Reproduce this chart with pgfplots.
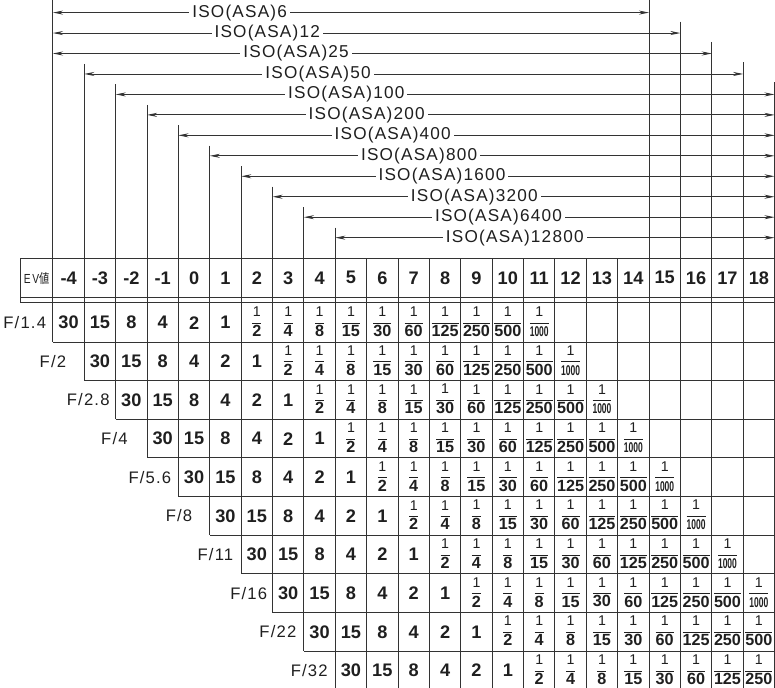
\documentclass[border=0pt]{standalone}
\usepackage{fontspec}
\setmainfont{Liberation Sans}
\newfontfamily\isofont[LetterSpace=7]{Liberation Sans}
\newfontfamily\cjk{Noto Sans CJK JP}
\usepackage{graphicx}
\usepackage{pgfplots}
\usepackage{pgfplotstable}
\pgfplotsset{compat=1.18}
\usetikzlibrary{arrows.meta}
\definecolor{ink}{gray}{0.12}
\definecolor{rule}{gray}{0.2}

\newcommand\wholefont{\fontsize{18bp}{20bp}\selectfont\bfseries}
\newcommand\fracnode[1]{$\displaystyle\frac{\mbox{\fontsize{14bp}{15bp}\selectfont 1}}{\mbox{\bfseries\ifnum#1=1000\relax\fontsize{14bp}{15bp}\selectfont\scalebox{0.6}[1]{#1}\else\fontsize{16bp}{17bp}\selectfont#1\fi}}$}

% shutter times: whole seconds
\pgfplotstableread{
k s
0 30
1 15
2 8
3 4
4 2
5 1
}\wholetab
% shutter times: 1/d seconds
\pgfplotstableread{
k d
6 2
7 4
8 8
9 15
10 30
11 60
12 125
13 250
14 500
15 1000
}\fractab
% EV header
\pgfplotstableread{
e y
-4 282.5
-3 282.5
-2 282.5
-1 282.5
0 282.5
1 282.5
2 282.5
3 282.5
4 282.5
5 282.5
6 282.5
7 282.5
8 282.5
9 282.5
10 282.5
11 282.5
12 282.5
13 282.5
14 282.5
15 282.5
16 282.5
17 282.5
18 282.5
}\hdrtab
% aperture labels
\pgfplotstableread{
r x lab
0 -5.40 F/1.4
1 -4.50 F/2
2 -3.375 F/2.8
3 -2.54 F/4
4 -1.41 F/5.6
5 -0.48 F/8
6 0.68 F/11
7 1.74 F/16
8 2.67 F/22
9 3.67 F/32
}\ftab
% ISO labels
\pgfplotstableread{
x y lab
1.45 20 ISO(ASA)6
2.33 40.25 ISO(ASA)12
3.25 60.5 ISO(ASA)25
3.95 80.75 ISO(ASA)50
4.85 101 ISO(ASA)100
5.50 121.25 ISO(ASA)200
6.33 141.5 ISO(ASA)400
7.17 161.75 ISO(ASA)800
7.90 182 ISO(ASA)1600
8.93 202.25 ISO(ASA)3200
9.70 222.5 ISO(ASA)6400
10.22 242.75 ISO(ASA)12800
}\isotab

\begin{document}
\begin{tikzpicture}
\begin{axis}[
  width=775bp, height=688bp, scale only axis,
  xmin=-6.43, xmax=18.53, ymin=0, ymax=688, y dir=reverse,
  hide axis,
  every node near coord/.append style={anchor=center, text=ink},
  grid/.style={rule, line width=0.9bp},
  arr/.style={rule, line width=0.9bp, {Stealth[length=10bp,width=4bp]}-{Stealth[length=10bp,width=4bp]}},
]
% ---- ISO arrows
\addplot[arr] coordinates {(-4.5,20) (14.5,20)};
\addplot[arr] coordinates {(-4.5,40.25) (15.5,40.25)};
\addplot[arr] coordinates {(-4.5,60.5) (16.5,60.5)};
\addplot[arr] coordinates {(-3.5,80.75) (17.5,80.75)};
\addplot[arr] coordinates {(-2.5,101) (18.5,101)};
\addplot[arr] coordinates {(-1.5,121.25) (18.5,121.25)};
\addplot[arr] coordinates {(-0.5,141.5) (18.5,141.5)};
\addplot[arr] coordinates {(0.5,161.75) (18.5,161.75)};
\addplot[arr] coordinates {(1.5,182) (18.5,182)};
\addplot[arr] coordinates {(2.5,202.25) (18.5,202.25)};
\addplot[arr] coordinates {(3.5,222.5) (18.5,222.5)};
\addplot[arr] coordinates {(4.5,242.75) (18.5,242.75)};
% ---- vertical rules
\addplot[grid] coordinates {(-4.5,8) (-4.5,346)};
\addplot[grid] coordinates {(-3.5,70.75) (-3.5,384.25)};
\addplot[grid] coordinates {(-2.5,91) (-2.5,422.5)};
\addplot[grid] coordinates {(-1.5,111.25) (-1.5,460.75)};
\addplot[grid] coordinates {(-0.5,131.5) (-0.5,499)};
\addplot[grid] coordinates {(0.5,151.75) (0.5,537.25)};
\addplot[grid] coordinates {(1.5,172) (1.5,575.5)};
\addplot[grid] coordinates {(2.5,192.25) (2.5,613.75)};
\addplot[grid] coordinates {(3.5,212.5) (3.5,652)};
\addplot[grid] coordinates {(4.5,232.75) (4.5,688)};
\addplot[grid] coordinates {(5.5,263) (5.5,688)};
\addplot[grid] coordinates {(6.5,263) (6.5,688)};
\addplot[grid] coordinates {(7.5,263) (7.5,688)};
\addplot[grid] coordinates {(8.5,263) (8.5,688)};
\addplot[grid] coordinates {(9.5,263) (9.5,688)};
\addplot[grid] coordinates {(10.5,263) (10.5,688)};
\addplot[grid] coordinates {(11.5,263) (11.5,688)};
\addplot[grid] coordinates {(12.5,263) (12.5,688)};
\addplot[grid] coordinates {(13.5,263) (13.5,688)};
\addplot[grid] coordinates {(14.5,8) (14.5,688)};
\addplot[grid] coordinates {(15.5,29) (15.5,688)};
\addplot[grid] coordinates {(16.5,49) (16.5,688)};
\addplot[grid] coordinates {(17.5,69) (17.5,688)};
\addplot[grid] coordinates {(18.5,89) (18.5,688)};
\addplot[grid] coordinates {(-5.53,263) (-5.53,307)};
% ---- horizontal rules
\addplot[grid] coordinates {(-5.53,263) (18.5,263)};
\addplot[grid] coordinates {(-5.53,302) (18.5,302)};
\addplot[grid] coordinates {(-5.53,307) (18.5,307)};
\addplot[grid] coordinates {(-4.5,346) (18.5,346)};
\addplot[grid] coordinates {(-3.5,384.25) (18.5,384.25)};
\addplot[grid] coordinates {(-2.5,422.5) (18.5,422.5)};
\addplot[grid] coordinates {(-1.5,460.75) (18.5,460.75)};
\addplot[grid] coordinates {(-0.5,499) (18.5,499)};
\addplot[grid] coordinates {(0.5,537.25) (18.5,537.25)};
\addplot[grid] coordinates {(1.5,575.5) (18.5,575.5)};
\addplot[grid] coordinates {(2.5,613.75) (18.5,613.75)};
\addplot[grid] coordinates {(3.5,652) (18.5,652)};
% ---- ISO labels
\addplot[draw=none, nodes near coords, point meta=explicit symbolic,
  every node near coord/.append style={font=\isofont\fontsize{17bp}{19bp}\selectfont, fill=white, inner xsep=3bp, inner ysep=1bp}]
  table[x=x, y=y, meta=lab] {\isotab};
% ---- header
\addplot[draw=none, nodes near coords, point meta=explicit symbolic,
  every node near coord/.append style={font=\wholefont}]
  table[x=e, y=y, meta=e] {\hdrtab};
\node[text=ink, font=\fontsize{13bp}{14bp}\selectfont, inner sep=0pt] at (axis cs:-5.02,283) {\scalebox{0.78}[1]{E\hspace{2bp}V{\cjk 値}}};
% ---- aperture labels
\addplot[draw=none, nodes near coords, point meta=explicit symbolic,
  every node near coord/.append style={font=\isofont\fontsize{16.5bp}{18bp}\selectfont}]
  table[x=x, y expr=326.9+38.25*\thisrow{r}, meta=lab] {\ftab};
% ---- shutter times
\pgfplotsinvokeforeach{0,...,9}{
  \addplot[draw=none, nodes near coords, point meta=explicit symbolic,
    restrict x to domain=-5:18.2,
    every node near coord/.append style={font=\wholefont}]
    table[x expr=\thisrow{k}+#1-4, y expr=326.9+38.25*#1, meta=s] {\wholetab};
  \addplot[draw=none, nodes near coords={\fracnode{\pgfplotspointmeta}}, point meta=explicit symbolic,
    restrict x to domain=-5:18.2,
    every node near coord/.append style={font=\fontsize{13.5bp}{15bp}\selectfont, inner sep=0pt}]
    table[x expr=\thisrow{k}+#1-4, y expr=326+38.25*#1, meta=d] {\fractab};
}
\end{axis}
\end{tikzpicture}
\end{document}
